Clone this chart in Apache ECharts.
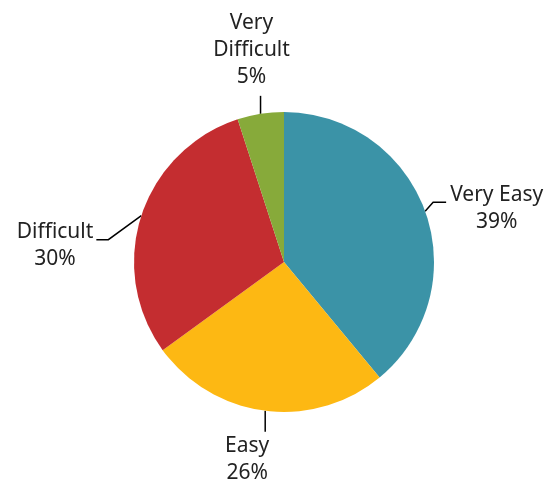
<!DOCTYPE html>
<html>
<head>
<meta charset="utf-8">
<script src="https://cdn.jsdelivr.net/npm/echarts@6/dist/echarts.min.js"></script>
<style>html,body{margin:0;padding:0;background:#fff;}#c{width:548px;height:483px;}</style>
</head>
<body>
<div id="c"></div>
<script>
const categories = ['Very Easy', 'Easy', 'Difficult', 'Very Difficult'];
const values = [39, 26, 30, 5];
const labelTexts = ['Very Easy\n39%', 'Easy\n26%', 'Difficult\n30%', 'Very\nDifficult\n5%'];

const colors = ['#3b93a7', '#fdb813', '#c42d30', '#87aa3a'];
// leader-line styling: bend offset from slice edge, horizontal run, label side
const leaders = [
  { bend: [8, -9], run: 13, side: 'right', dy: 6 },
  { bend: [0, 21], run: 0, side: 'below', dx: -18, dy: 28 },
  { bend: [-33, 24], run: -12, side: 'left', dy: 6 },
  { bend: [0, -18], run: 0, side: 'above', dx: -9, dy: -46 }
];

const chart = echarts.init(document.getElementById('c'));
chart.setOption({
  animation: false,
  backgroundColor: '#ffffff',
  series: [{
    type: 'pie',
    center: [284, 262],
    radius: 150,
    startAngle: 90,
    clockwise: true,
    avoidLabelOverlap: false,
    data: categories.map((c, i) => ({ name: c, value: values[i], itemStyle: { color: colors[i] } })),
    label: {
      show: true,
      position: 'outside',
      formatter: p => labelTexts[p.dataIndex],
      fontFamily: 'Noto Sans',
      fontSize: 21,
      lineHeight: 27,
      color: '#222222',
      align: 'center'
    },
    labelLine: {
      show: true,
      length: 10,
      length2: 10,
      lineStyle: { color: '#000', width: 1.5 }
    },
    labelLayout: function (params) {
      const L = leaders[params.dataIndex];
      const s = params.labelLinePoints[0];
      const b = [s[0] + L.bend[0], s[1] + L.bend[1]];
      const e = [b[0] + L.run, b[1]];
      const w = params.labelRect.width;
      let x, y;
      if (L.side === 'right') { x = e[0] + 4 + w / 2; y = e[1] + L.dy; }
      else if (L.side === 'left') { x = e[0] - 3 - w / 2; y = e[1] + L.dy; }
      else { x = e[0] + L.dx; y = e[1] + L.dy; }
      return {
        x: x, y: y, align: 'center', verticalAlign: 'middle',
        labelLinePoints: [s, b, e]
      };
    }
  }]
});
</script>
</body>
</html>
